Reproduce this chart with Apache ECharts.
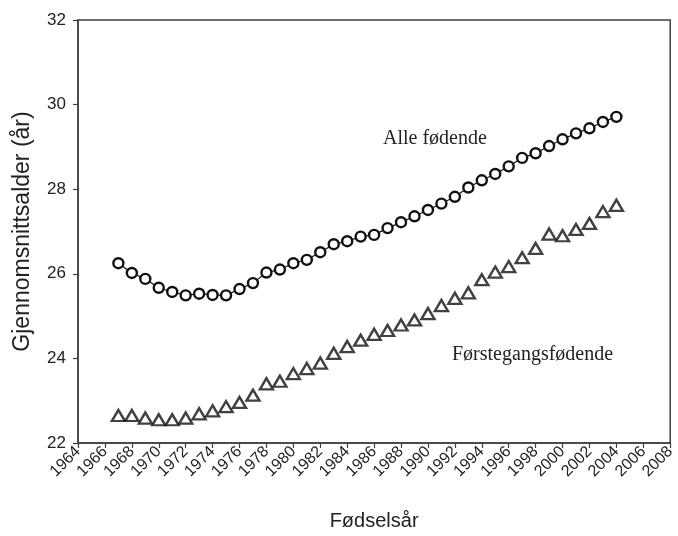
<!DOCTYPE html>
<html>
<head>
<meta charset="utf-8">
<script src="https://cdn.jsdelivr.net/npm/echarts@6/dist/echarts.min.js"></script>
<style>
html,body{margin:0;padding:0;background:#fff;}
#chart{width:678px;height:536px;}
</style>
</head>
<body>
<div id="chart"></div>
<script>
var years = [1967,1968,1969,1970,1971,1972,1973,1974,1975,1976,1977,1978,1979,1980,1981,1982,1983,1984,1985,1986,1987,1988,1989,1990,1991,1992,1993,1994,1995,1996,1997,1998,1999,2000,2001,2002,2003,2004];
var alleFodende = [26.25,26.02,25.88,25.67,25.57,25.49,25.53,25.50,25.49,25.64,25.78,26.03,26.10,26.25,26.33,26.51,26.70,26.77,26.88,26.92,27.08,27.22,27.36,27.51,27.66,27.82,28.04,28.21,28.36,28.54,28.74,28.85,29.02,29.18,29.32,29.44,29.59,29.71];
var forstegangs = [22.65,22.65,22.59,22.55,22.55,22.59,22.69,22.76,22.86,22.96,23.13,23.40,23.46,23.64,23.76,23.89,24.12,24.28,24.43,24.57,24.66,24.79,24.91,25.06,25.25,25.42,25.55,25.86,26.04,26.17,26.38,26.60,26.94,26.90,27.05,27.19,27.47,27.62];
var seriesNames = ['Alle fødende', 'Førstegangsfødende'];
var xTitle = 'Fødselsår';
var yTitle = 'Gjennomsnittsalder (år)';

function pairs(xs, ys){ return xs.map(function(x,i){ return [x, ys[i]]; }); }

var axisColor = '#404040';
var chart = echarts.init(document.getElementById('chart'), null, {renderer:'canvas'});
chart.setOption({
  animation: false,
  backgroundColor: '#ffffff',
  grid: {left: 78, right: 4, top: 20, bottom: 87, show: true, borderColor: axisColor, borderWidth: 1.5, backgroundColor: 'transparent'},
  xAxis: {
    type: 'value', min: 1964, max: 2008, interval: 2,
    name: xTitle, nameLocation: 'middle', nameGap: 68,
    nameTextStyle: {fontFamily: 'Liberation Sans', fontSize: 20, color: '#222'},
    axisLine: {show: true, onZero: false, lineStyle: {color: axisColor, width: 1.5}},
    axisTick: {show: true, length: 5, lineStyle: {color: axisColor, width: 1.2}},
    axisLabel: {rotate: 45, margin: 6, fontFamily: 'Liberation Sans', fontSize: 16, color: '#222',
      formatter: function(v){ return String(v); }},
    splitLine: {show: false}
  },
  yAxis: {
    type: 'value', min: 22, max: 32, interval: 2,
    name: yTitle, nameLocation: 'middle', nameGap: 44, nameRotate: 90,
    nameTextStyle: {fontFamily: 'Liberation Sans', fontSize: 23, color: '#222'},
    axisLine: {show: true, onZero: false, lineStyle: {color: axisColor, width: 1.5}},
    axisTick: {show: true, length: 5, lineStyle: {color: axisColor, width: 1.2}},
    axisLabel: {margin: 12, fontFamily: 'Liberation Sans', fontSize: 17, color: '#222'},
    splitLine: {show: false}
  },
  series: [
    {
      name: seriesNames[0], type: 'line', data: pairs(years, alleFodende),
      symbol: 'circle', symbolSize: 10, showSymbol: true,
      lineStyle: {color: '#111', width: 1.2},
      itemStyle: {color: '#fff', borderColor: '#111', borderWidth: 2.4},
      z: 3
    },
    {
      name: seriesNames[1], type: 'scatter', data: pairs(years, forstegangs),
      symbol: 'triangle', symbolSize: [13, 11],
      itemStyle: {color: '#fff', borderColor: '#111', borderWidth: 2.4},
      z: 3
    }
  ],
  graphic: [
    {type: 'text', left: 383, top: 129, style: {text: seriesNames[0], font: '20px "Liberation Serif"', fill: '#222'}},
    {type: 'text', left: 452, top: 345, style: {text: seriesNames[1], font: '20px "Liberation Serif"', fill: '#222'}}
  ]
});
</script>
</body>
</html>
